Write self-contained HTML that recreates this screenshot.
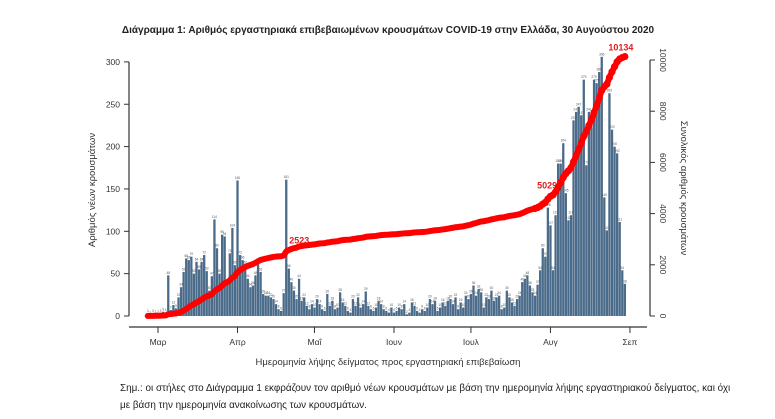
<!DOCTYPE html>
<html><head><meta charset="utf-8">
<style>
body{margin:0;background:#fff;}
svg text{font-family:"Liberation Sans","DejaVu Sans",sans-serif;}
</style></head>
<body>
<svg id="chart" width="775" height="414" viewBox="0 0 775 414" xmlns="http://www.w3.org/2000/svg">
<text x="388" y="33" text-anchor="middle" font-size="10" font-weight="bold" fill="#222">Διάγραμμα 1: Αριθμός εργαστηριακά επιβεβαιωμένων κρουσμάτων COVID-19 στην Ελλάδα, 30 Αυγούστου 2020</text>
<g id="bars"></g>
<g id="barlabels"></g>
<g id="cum"></g>
<g id="axes"></g>
<text transform="translate(95,190) rotate(-90)" text-anchor="middle" font-size="9.5" fill="#333">Αριθμός νέων κρουσμάτων</text>
<text transform="translate(681,188) rotate(90)" text-anchor="middle" font-size="9.5" fill="#333">Συνολικός αριθμός κρουσμάτων</text>
<text x="388" y="365" text-anchor="middle" font-size="9.5" fill="#333">Ημερομηνία λήψης δείγματος προς εργαστηριακή επιβεβαίωση</text>
<text x="120" y="391" font-size="9.9" fill="#222">Σημ.: οι στήλες στο Διάγραμμα 1 εκφράζουν τον αριθμό νέων κρουσμάτων με βάση την ημερομηνία λήψης εργαστηριακού δείγματος, και όχι</text>
<text x="120" y="408" font-size="9.9" fill="#222">με βάση την ημερομηνία ανακοίνωσης των κρουσμάτων.</text>
</svg>
<script>
// Daily new cases, 26 Feb .. 30 Aug 2020
const febValues=[3,1,3,2];
const marValues=[2,3,5,4,48,7,13,9,22,34,52,68,66,70,50,64,55,64,72,53,30,47,114,80,50,96,94,38,74,104,60];
const aprValues=[160,72,66,60,44,34,36,48,62,52,26,24,24,22,20,14,8,6,27,161,56,40,30,20,44,18,22,12,8,14];
const mayValues=[10,20,14,8,6,26,12,18,8,10,28,16,12,6,4,20,12,22,10,14,29,12,8,6,10,18,14,8,6,4,10];
const junValues=[4,6,10,8,14,2,4,16,12,6,4,8,6,10,20,14,18,6,10,16,12,18,20,14,22,8,16,10,24,20];
const julValues=[26,36,24,32,28,10,22,20,30,18,22,24,8,10,30,22,16,12,20,24,40,44,48,36,28,24,37,54,80,70,128];
const augValues=[107,54,119,180,180,204,145,113,119,231,241,247,237,279,178,241,223,279,275,288,306,140,101,263,220,200,192,111,54,38];
const monthLabels=["Μαρ","Απρ","Μαΐ","Ιουν","Ιουλ","Αυγ","Σεπ"];
const monthStartDay=[4,35,65,96,126,157,188];
const leftTicks=[0,50,100,150,200,250,300];
const rightTicks=[0,2000,4000,6000,8000,10000];

const daily=[].concat(febValues,marValues,aprValues,mayValues,junValues,julValues,augValues);
const cumulative=[];let s=0;daily.forEach(v=>{s+=v;cumulative.push(s);});

const NS="http://www.w3.org/2000/svg";
const dayW=2.565, x0=158-4*dayW;
const xDay=i=>x0+i*dayW;
const yL=v=>316-v*0.847;
const yR=v=>316-v*0.0256;
function mk(tag,attrs,parent){const e=document.createElementNS(NS,tag);for(const k in attrs)e.setAttribute(k,attrs[k]);parent.appendChild(e);return e;}
const gB=document.getElementById('bars'),gL=document.getElementById('barlabels'),gC=document.getElementById('cum'),gA=document.getElementById('axes');

daily.forEach((v,i)=>{
  const r=mk('rect',{x:xDay(i)-1.15,y:yL(v),width:2.3,height:316-yL(v),fill:'#4b6b8a'},gB);
  
  
  const t=mk('text',{x:xDay(i),y:yL(v)-1.5,'text-anchor':'middle','font-size':'3.2',fill:'#555'},gL);
  
  
  t.textContent=v;
});
const iMid=febValues.length+marValues.length+19; // 20 Apr
function cumLabel(i,dx,dy,anchor,name){
  const t=mk('text',{x:xDay(i)+dx,y:yR(cumulative[i])+dy,'text-anchor':anchor,'font-size':'9','font-weight':'bold',fill:'#e02020'},gC);
  
  
  t.textContent=cumulative[i];
}
let i5=cumulative.findIndex(c=>c>=5000);
const pts=cumulative.map((c,i)=>xDay(i)+','+yR(c)).join(' ');
const pl=mk('polyline',{points:pts,fill:'none',stroke:'#f00','stroke-width':'6','stroke-linejoin':'round','stroke-linecap':'round'},gC);


cumLabel(iMid,3,-8,'start','label-2523');
cumLabel(i5,-1,1,'end','label-5000');
cumulative.forEach((c,i)=>{
  if(i>150){
    const d=mk('circle',{cx:xDay(i),cy:yR(c),r:3.6,fill:'#f00'},gC);
    
    
  }
});
cumLabel(daily.length-1,-4,-6,'middle','label-total');

const c='#333';
let e=mk('line',{x1:129,y1:yL(0),x2:129,y2:yL(300),stroke:c,'stroke-width':1.2},gA);

leftTicks.forEach(v=>{
  mk('line',{x1:124,y1:yL(v),x2:129,y2:yL(v),stroke:c},gA);
  const t=mk('text',{x:120,y:yL(v)+3,'text-anchor':'end','font-size':'8.5',fill:'#333'},gA);
  t.textContent=v;
});
e=mk('line',{x1:650,y1:yR(0),x2:650,y2:yR(10000),stroke:c,'stroke-width':1.2},gA);

rightTicks.forEach(v=>{
  mk('line',{x1:650,y1:yR(v),x2:655,y2:yR(v),stroke:c},gA);
  const t=mk('text',{transform:'translate(660,'+yR(v)+') rotate(90)','text-anchor':'middle','font-size':'8.5',fill:'#333'},gA);
  t.textContent=v;
});
e=mk('line',{x1:129,y1:327,x2:647,y2:327,stroke:c,'stroke-width':1.2},gA);

monthLabels.forEach((m,k)=>{
  const x=xDay(monthStartDay[k]);
  mk('line',{x1:x,y1:327,x2:x,y2:333,stroke:c},gA);
  const t=mk('text',{x:x,y:345,'text-anchor':'middle','font-size':'8.5',fill:'#333'},gA);
  t.textContent=m;
});
</script>
</body></html>
